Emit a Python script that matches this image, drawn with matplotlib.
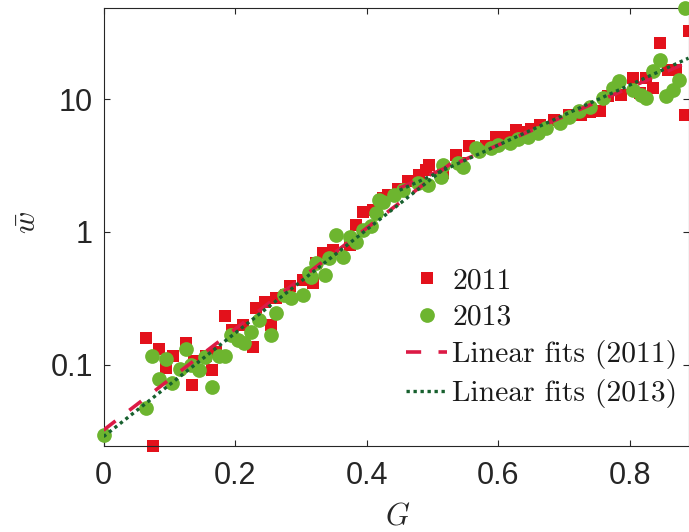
import matplotlib
matplotlib.use("Agg")
import matplotlib.pyplot as plt
from matplotlib.lines import Line2D

plt.rcParams["mathtext.fontset"] = "cm"

# 2011 survey
g_2011 = [0.065, 0.075, 0.084, 0.095, 0.105, 0.125, 0.134, 0.138, 0.156, 0.165,
          0.171, 0.184, 0.196, 0.212, 0.227, 0.232, 0.245, 0.255, 0.262, 0.278,
          0.283, 0.303, 0.318, 0.323, 0.333, 0.349, 0.374, 0.384, 0.394, 0.410,
          0.425, 0.432, 0.448, 0.462, 0.480, 0.490, 0.495, 0.516, 0.536, 0.541,
          0.556, 0.582, 0.597, 0.612, 0.627, 0.635, 0.650, 0.663, 0.685, 0.708,
          0.726, 0.740, 0.754, 0.766, 0.787, 0.804, 0.815, 0.825, 0.835, 0.845,
          0.858, 0.870, 0.883, 0.889]
w_2011 = [0.159, 0.0243, 0.131, 0.094, 0.116, 0.145, 0.070, 0.106, 0.115, 0.091,
          0.125, 0.232, 0.182, 0.200, 0.136, 0.265, 0.298, 0.200, 0.316, 0.335,
          0.390, 0.434, 0.410, 0.580, 0.690, 0.730, 0.800, 1.13, 1.42, 1.45,
          1.80, 1.90, 2.10, 2.40, 2.69, 2.94, 3.20, 2.77, 3.80, 3.30,
          4.40, 4.40, 5.20, 5.20, 5.90, 5.70, 6.00, 6.40, 7.00, 7.60,
          7.60, 8.00, 8.10, 10.5, 10.8, 14.5, 11.2, 14.5, 12.2, 26.6,
          16.7, 16.7, 7.6, 32.5]

# 2013 survey
g_2013 = [0.000, 0.065, 0.074, 0.084, 0.095, 0.104, 0.116, 0.125, 0.133, 0.145,
          0.155, 0.165, 0.175, 0.185, 0.194, 0.204, 0.214, 0.224, 0.237, 0.255,
          0.262, 0.275, 0.285, 0.303, 0.313, 0.316, 0.323, 0.336, 0.343, 0.354,
          0.364, 0.374, 0.384, 0.394, 0.407, 0.414, 0.419, 0.425, 0.442, 0.455,
          0.478, 0.493, 0.513, 0.516, 0.538, 0.546, 0.566, 0.571, 0.589, 0.600,
          0.617, 0.630, 0.645, 0.660, 0.673, 0.693, 0.708, 0.723, 0.739, 0.759,
          0.774, 0.784, 0.804, 0.817, 0.825, 0.835, 0.845, 0.855, 0.865, 0.875,
          0.883]
w_2013 = [0.0296, 0.047, 0.116, 0.078, 0.110, 0.072, 0.093, 0.130, 0.100, 0.091,
          0.113, 0.068, 0.116, 0.115, 0.167, 0.153, 0.145, 0.177, 0.217, 0.167,
          0.243, 0.335, 0.316, 0.335, 0.490, 0.460, 0.580, 0.470, 0.630, 0.950,
          0.650, 0.920, 0.845, 1.03, 1.10, 1.38, 1.74, 1.69, 1.90, 2.07,
          2.33, 2.26, 2.61, 3.20, 3.30, 3.10, 4.30, 4.04, 4.28, 4.50,
          4.67, 5.00, 5.20, 5.60, 6.06, 6.60, 7.30, 8.10, 8.80, 10.2,
          12.2, 13.6, 11.8, 10.8, 10.2, 16.2, 19.9, 10.5, 11.8, 14.0,
          48.7]

# Two-regime linear fits of log(w) against G: segment end points
fit_2011_g = [[0.0, 0.53], [0.45, 0.889]]
fit_2011_w = [[0.032, 3.34], [2.14, 19.1]]
fit_2013_g = [[0.0, 0.521], [0.45, 0.889]]
fit_2013_w = [[0.0286, 3.08], [2.06, 20.4]]

x_ticks = [0, 0.2, 0.4, 0.6, 0.8]
x_tick_labels = ["0", "0.2", "0.4", "0.6", "0.8"]
y_ticks = [0.1, 1, 10]
y_tick_labels = ["0.1", "1", "10"]

RED = "#E3111B"
GREEN = "#6DB52F"
FIT_RED = "#DC1A45"
FIT_GREEN = "#17602E"
AX_COL = "#262626"

W, H = 689, 532
fig = plt.figure(figsize=(W / 100, H / 100), dpi=100)
ax = fig.add_axes([103.5 / W, (H - 446) / H, (688.5 - 103.5) / W, (446 - 8) / H])

ax.plot(g_2011, w_2011, ls="none", marker="s", ms=8.6, mfc=RED, mec=RED, mew=0,
        clip_on=False, zorder=2)
ax.plot(g_2013, w_2013, ls="none", marker="o", ms=10.6, mfc=GREEN, mec=GREEN, mew=0,
        clip_on=False, zorder=3)
for gs, ws in zip(fit_2011_g, fit_2011_w):
    ax.plot(gs, ws, color=FIT_RED, lw=2.6, ls=(0, (4.2, 4.8)), zorder=4)
for gs, ws in zip(fit_2013_g, fit_2013_w):
    ax.plot(gs, ws, color=FIT_GREEN, lw=2.4, ls=(0, (1.0, 1.1)), zorder=5)

ax.set_yscale("log")
ax.set_xlim(min(min(g_2011), min(g_2013)), max(max(g_2011), max(g_2013)))
ax.set_ylim(min(min(w_2011), min(w_2013)), max(max(w_2011), max(w_2013)))
ax.set_xticks(x_ticks)
ax.set_xticklabels(x_tick_labels)
ax.set_yticks(y_ticks)
ax.set_yticklabels(y_tick_labels)
ax.yaxis.set_minor_locator(matplotlib.ticker.NullLocator())
ax.xaxis.set_minor_locator(matplotlib.ticker.NullLocator())

for s in ax.spines.values():
    s.set_color(AX_COL)
    s.set_linewidth(0.8)
ax.tick_params(axis="both", which="major", direction="in", length=4.3, width=0.8,
               color=AX_COL, labelcolor=AX_COL, top=True, right=True,
               labelsize=22)
ax.tick_params(axis="x", pad=11)
ax.tick_params(axis="y", pad=7.5)
for lab in ax.get_xticklabels() + ax.get_yticklabels():
    lab.set_fontfamily("Liberation Sans")

fig.text(28 / W, 1 - 222 / H, r"$\bar{w}$", rotation=90, ha="center", va="center",
         fontsize=22, color=AX_COL)
fig.text(398 / W, 1 - 516 / H, r"$G$", ha="center", va="center",
         fontsize=22, color=AX_COL)

handles = [
    Line2D([], [], ls="none", marker="s", ms=8.6, mfc=RED, mec=RED, mew=0),
    Line2D([], [], ls="none", marker="o", ms=10.6, mfc=GREEN, mec=GREEN, mew=0),
    Line2D([], [], color=FIT_RED, lw=2.6, ls=(0, (4.2, 4.8))),
    Line2D([], [], color=FIT_GREEN, lw=2.4, ls=(0, (1.0, 1.1))),
]
labels = ["2011", "2013", "Linear fits (2011)", "Linear fits (2013)"]
leg = fig.legend(handles, labels, loc="center left",
                 bbox_to_anchor=(406 / W, 1 - 338 / H), borderaxespad=0,
                 frameon=False, borderpad=0, handlelength=1.4, handletextpad=0.17,
                 labelspacing=0.32, prop={"family": "cmr10", "size": 21.3})
for t in leg.get_texts():
    t.set_color("#1a1a1a")

fig.savefig("out.png", dpi=100)
